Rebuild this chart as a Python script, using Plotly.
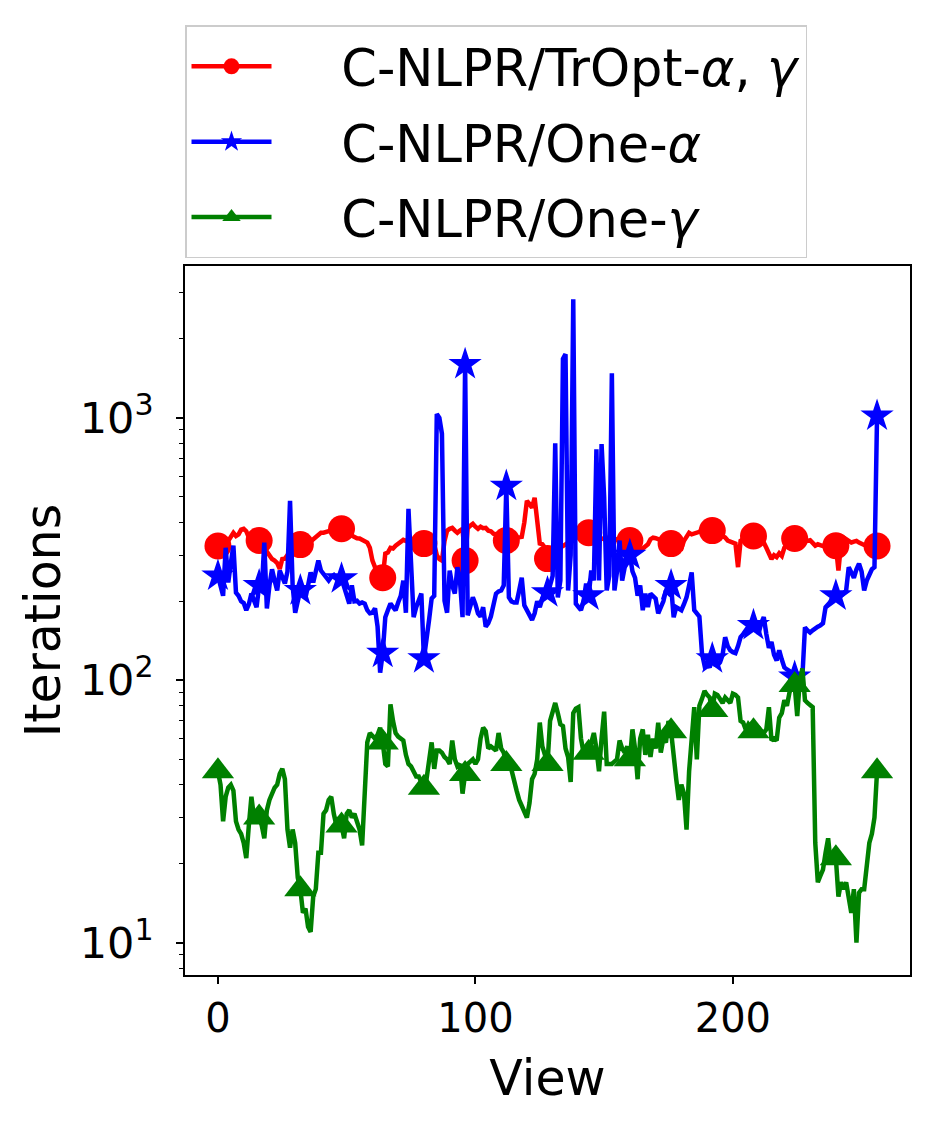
import plotly.graph_objects as go

views = list(range(257))

tropt = [
    325, 330, 320, 335, 340, 350, 365, 355, 360, 375, 378, 370, 350, 345, 340, 338,
    341, 330, 320, 310, 298, 290, 286, 280, 266, 290, 291, 300, 315, 320, 325, 328,
    329, 330, 335, 332, 338, 345, 350, 358, 365, 365, 368, 370, 372, 375, 376, 378,
    378, 372, 362, 360, 355, 352, 348, 347, 342, 338, 335, 320, 286, 270, 255, 250,
    246, 304, 307, 320, 318, 326, 332, 338, 343, 340, 345, 342, 338, 340, 342, 340,
    332, 335, 340, 345, 330, 300, 290, 286, 340, 372, 378, 381, 372, 365, 372, 378,
    286, 380, 388, 395, 385, 378, 385, 380, 381, 372, 370, 362, 360, 352, 350, 345,
    341, 345, 350, 348, 350, 350, 352, 400, 483, 470, 455, 496, 400, 332, 330, 320,
    291, 300, 310, 320, 318, 320, 325, 330, 335, 340, 345, 350, 355, 360, 362, 365,
    365, 360, 358, 355, 350, 348, 345, 350, 345, 342, 340, 345, 342, 340, 338, 340,
    341, 335, 325, 315, 312, 318, 320, 330, 345, 350, 348, 345, 342, 340, 338, 335,
    332, 330, 325, 320, 318, 340, 355, 365, 360, 362, 365, 368, 375, 380, 378, 375,
    372, 368, 365, 360, 355, 350, 341, 338, 335, 332, 270, 340, 345, 348, 352, 355,
    355, 352, 345, 340, 335, 320, 305, 290, 300, 295, 305, 298, 320, 330, 335, 342,
    347, 350, 345, 350, 347, 340, 342, 335, 326, 330, 328, 325, 330, 328, 326, 325,
    326, 262, 330, 350, 345, 340, 335, 338, 340, 335, 330, 328, 325, 326, 325, 325,
    325,
]

one_alpha = [
    250, 230, 210, 320, 236, 280, 326, 216, 210, 200, 197, 185, 195, 214, 200, 190,
    230, 220, 335, 188, 230, 265, 240, 220, 262, 250, 234, 260, 483, 230, 181, 200,
    220, 215, 207, 230, 258, 236, 260, 286, 262, 255, 250, 240, 248, 252, 245, 240,
    244, 225, 210, 196, 230, 200, 201, 196, 198, 196, 185, 180, 181, 188, 160, 107,
    127, 174, 185, 196, 190, 185, 198, 210, 240, 181, 450, 255, 174, 190, 200, 214,
    121, 150, 170, 205, 210, 1035, 1000, 870, 201, 181, 262, 230, 214, 270, 240, 174,
    1600, 177, 190, 207, 195, 180, 175, 190, 160, 165, 175, 190, 214, 218, 220, 230,
    550, 207, 200, 198, 198, 220, 246, 193, 185, 175, 170, 180, 200, 190, 205, 210,
    216, 230, 250, 800, 207, 240, 1680, 1750, 220, 300, 2830, 196, 190, 185, 200, 234,
    210, 262, 240, 760, 240, 795, 500, 220, 250, 1480, 220, 260, 341, 240, 270, 280,
    300, 260, 246, 210, 230, 185, 214, 190, 214, 210, 205, 180, 190, 200, 220, 215,
    230, 174, 190, 188, 185, 195, 207, 230, 258, 185, 180, 175, 127, 114, 116, 112,
    121, 115, 114, 117, 125, 146, 135, 130, 128, 127, 135, 146, 150, 155, 160, 158,
    162, 158, 151, 165, 174, 150, 133, 140, 125, 119, 130, 120, 112, 110, 108, 107,
    103, 102, 100, 103, 159, 155, 152, 155, 158, 160, 162, 165, 190, 195, 200, 205,
    210, 205, 210, 215, 220, 270, 260, 246, 265, 278, 260, 220, 240, 255, 265, 270,
    1018,
]

one_gamma = [
    45, 40, 29, 36, 39, 40, 38, 29, 27, 26, 24, 21, 28, 36, 30, 31,
    30, 28, 25, 32, 35, 37, 39, 40, 44, 46, 42, 27, 23, 27, 24, 17.7,
    16, 13, 13.5, 11.5, 11, 15, 16, 22, 22, 31, 32, 35, 36, 31, 28, 30,
    28, 25, 31, 32, 30, 31, 29, 27, 23.5, 35, 58, 63, 61, 60, 62, 66,
    58, 48, 47, 81, 70, 63, 61, 60, 59, 52, 48, 47, 45, 43, 43, 41,
    39, 42, 50, 58, 46, 54, 54, 53, 51, 50, 48, 59, 50, 47, 48, 37,
    44, 48, 49, 50, 48, 50, 60, 66, 64, 55, 56, 55, 54, 63, 55, 53,
    48, 50, 45, 42, 38, 35, 33, 31, 30, 34, 42, 44, 50, 69, 56, 52,
    48, 70, 76, 82, 75, 68, 67, 55, 51, 41, 75, 78, 79, 60, 53, 55,
    53, 58, 63, 55, 45, 60, 76, 48, 48, 48, 49, 50, 59, 55, 53, 56,
    50, 65, 55, 42, 60, 65, 52, 62, 51, 60, 55, 69, 53, 60, 58, 70,
    64, 50, 42, 35, 40, 37, 27, 45, 58, 79, 50, 80, 85, 91, 88, 86,
    77, 89, 88, 85, 82, 86, 84, 82, 89, 88, 86, 70, 69, 65, 68, 66,
    64, 66, 66, 64, 63, 65, 79, 59, 60, 59, 72, 75, 84, 80, 90, 95,
    96, 73, 100, 111, 84, 82, 80, 79, 24, 17, 18, 19, 22, 25, 20, 22,
    21, 15, 17, 16, 17, 15, 13, 16, 10, 15.5, 16, 16, 20, 24, 26, 30,
    45,
]

series_names = [
    "\u00a0\u00a0\u00a0\u00a0C-NLPR/TrOpt-<i>α</i>, <i>γ</i>",
    "\u00a0\u00a0\u00a0\u00a0C-NLPR/One-<i>α</i>",
    "\u00a0\u00a0\u00a0\u00a0C-NLPR/One-<i>γ</i>",
]
series_values = [tropt, one_alpha, one_gamma]
series_colors = ["#ff0000", "#0000ff", "#008000"]
series_symbols = ["circle", "star", "triangle-up"]
series_msize = [27, 25, 28]

x_tick_vals = [0, 100, 200]
y_tick_vals = [10, 100, 1000]
y_tick_text = ["10<sup>1</sup>", "10<sup>2</sup>", "10<sup>3</sup>"]

MARK_EVERY = 16

fig = go.Figure()
for k, (name, vals, col, sym, ms) in enumerate(zip(series_names, series_values, series_colors, series_symbols, series_msize)):
    marked = [i for i in range(len(vals)) if i % MARK_EVERY == 0]
    fig.add_trace(go.Scatter(
        x=views, y=vals, name=name, mode="lines+markers",
        legendgroup=f"g{k}",
        line=dict(color=col, width=4.5),
        marker=dict(symbol=sym, size=ms, color=col, opacity=1, line=dict(width=0)),
        selectedpoints=marked,
        selected=dict(marker=dict(opacity=1)),
        unselected=dict(marker=dict(opacity=0)),
    ))

font_family = "DejaVu Sans, Liberation Sans, sans-serif"

fig.update_layout(
    width=929, height=1123,
    margin=dict(l=185, r=19, t=266, b=148),
    paper_bgcolor="white", plot_bgcolor="white",
    font=dict(family=font_family, size=40, color="black"),
    showlegend=True,
    legend=dict(
        x=0.0, y=1.011, xanchor="left", yanchor="bottom",
        bordercolor="#cccccc", borderwidth=1.5, bgcolor="white",
        font=dict(size=51, family=font_family),
        itemwidth=80, itemsizing="trace",
        traceorder="grouped", tracegroupgap=6,
    ),
)

fig.update_xaxes(
    range=[-12.8, 268.8], tickvals=x_tick_vals,
    showline=True, linecolor="black", linewidth=1.5, mirror=True,
    ticks="outside", ticklen=7, tickwidth=1.5, tickcolor="black",
    showgrid=False, zeroline=False,
    tickfont=dict(size=40),
    title=dict(text="View", font=dict(size=49), standoff=21),
)
fig.update_yaxes(
    type="log", range=[0.877, 3.579],
    tickvals=y_tick_vals, ticktext=y_tick_text,
    showline=True, linecolor="black", linewidth=1.5, mirror=True,
    ticks="outside", ticklen=7, tickwidth=1.5, tickcolor="black",
    ticklabelstandoff=14,
    minor=dict(ticks="outside", ticklen=4, tickwidth=1, tickcolor="black", dtick="D1", showgrid=False),
    showgrid=False, zeroline=False,
    tickfont=dict(size=43),
    title=dict(text="Iterations", font=dict(size=49), standoff=4),
)

fig.write_html("out.html", config={"displayModeBar": False},
               post_script="document.body.style.margin='0';")
